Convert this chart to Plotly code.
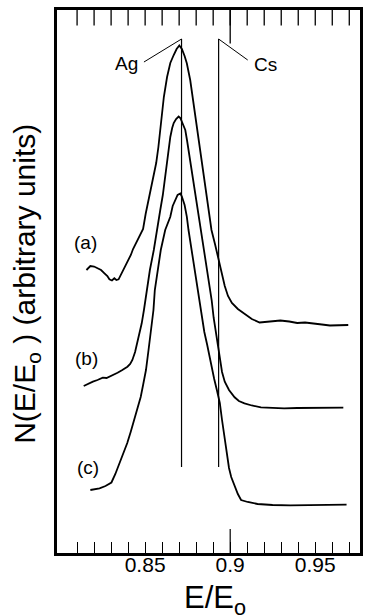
import plotly.graph_objects as go

# ---- data (E/Eo, arbitrary units) ----
a_x = [0.8155, 0.8178, 0.8200, 0.8222, 0.8241, 0.8261, 0.8278, 0.8290, 0.8305, 0.8319,
       0.8331, 0.8344, 0.8354, 0.8364, 0.8387, 0.8400, 0.8416, 0.8429, 0.8445, 0.8456,
       0.8468, 0.8479, 0.8488, 0.8503, 0.8517, 0.8532, 0.8549, 0.8565, 0.8578, 0.8590,
       0.8601, 0.8610, 0.8629, 0.8648, 0.8668, 0.8685, 0.8701, 0.8716, 0.8732, 0.8745,
       0.8765, 0.8784, 0.8803, 0.8832, 0.8861, 0.8890, 0.8912, 0.8929, 0.8947, 0.8968,
       0.8987, 0.9010, 0.9045, 0.9086, 0.9127, 0.9173, 0.9220, 0.9254, 0.9295, 0.9347,
       0.9394, 0.9440, 0.9493, 0.9539, 0.9586, 0.9638, 0.9694]
a_y = [283, 287, 286.5, 284.7, 283, 279.7, 277, 273.7, 272.5, 274.7,
       273, 273.7, 277, 279.7, 288, 293, 298, 304, 309.7, 313,
       318, 321, 324, 339, 350, 361, 375, 390, 406, 423,
       441, 456, 476, 490, 498, 504, 507.5, 504, 497, 489.7,
       473, 450, 423, 390, 356, 323, 308, 296, 281, 267,
       257, 250, 244, 239, 234, 230.5, 231, 232, 232.5, 231.5,
       230, 230.5, 229.7, 228.5, 227.5, 228, 228]

b_x = [0.8139, 0.8162, 0.8193, 0.8220, 0.8251, 0.8273, 0.8290, 0.8313, 0.8338, 0.8366,
       0.8396, 0.8412, 0.8425, 0.8441, 0.8454, 0.8467, 0.8480, 0.8493, 0.8511, 0.8528,
       0.8551, 0.8572, 0.8589, 0.8604, 0.8615, 0.8629, 0.8639, 0.8648, 0.8659, 0.8668,
       0.8682, 0.8697, 0.8707, 0.8720, 0.8736, 0.8746, 0.8755, 0.8769, 0.8784, 0.8798,
       0.8813, 0.8829, 0.8842, 0.8859, 0.8877, 0.8891, 0.8903, 0.8918, 0.8929, 0.8939,
       0.8952, 0.8968, 0.8993, 0.9026, 0.9051, 0.9084, 0.9127, 0.9181, 0.9249, 0.9317,
       0.9394, 0.9491, 0.9580, 0.9665]
b_y = [167, 169, 171.3, 173, 175.3, 175, 176.3, 178, 180.3, 183,
       186.3, 189, 193, 201, 209.7, 220, 229.7, 243, 263, 283,
       303, 323, 343, 358, 373, 390, 405, 416, 425, 430,
       434, 436.5, 435, 430, 423, 413, 403, 388, 373, 356,
       340, 323, 308, 291, 271, 253, 235, 218, 203, 193,
       181, 171.3, 163, 155.7, 152, 149.7, 147.5, 145.7, 145, 144.7,
       145, 145.3, 145, 145.3]

c_x = [0.8178, 0.8203, 0.8232, 0.8267, 0.8302, 0.8325, 0.8348, 0.8371, 0.8395, 0.8415,
       0.8432, 0.8453, 0.8474, 0.8488, 0.8505, 0.8520, 0.8534, 0.8549, 0.8557, 0.8575,
       0.8592, 0.8618, 0.8648, 0.8662, 0.8678, 0.8691, 0.8707, 0.8716, 0.8732, 0.8745,
       0.8755, 0.8766, 0.8778, 0.8793, 0.8807, 0.8822, 0.8833, 0.8848, 0.8865, 0.8877,
       0.8890, 0.8906, 0.8923, 0.8939, 0.8952, 0.8968, 0.8981, 0.8993, 0.9006, 0.9028,
       0.9045, 0.9064, 0.9103, 0.9161, 0.9249, 0.9353, 0.9452, 0.9551, 0.9626, 0.9684]
c_y = [63, 63.5, 64.7, 67, 70.5, 79, 89, 99, 110, 121,
       131, 143, 156, 168, 183, 203, 223, 243, 263, 283,
       303, 323, 336.3, 347, 354, 358, 359.5, 356.5, 348, 336.3,
       323, 311, 297, 281, 263, 248, 235, 221, 208, 197,
       186, 174, 162, 150, 133, 113, 95, 85, 76, 66,
       59, 53, 51, 49, 48, 47.7, 47.7, 47.7, 48, 48.3]

# reference lines (E/Eo) and their vertical extent
ref_names = ["Ag", "Cs"]
ref_x = [0.8714, 0.8932]
ref_y = [86, 514]
leader_end_x = [0.8493, 0.9103]
leader_end_y = [491, 493]
ref_label_x = [0.8389, 0.9208]
ref_label_y = [490, 489]

curve_labels = ["(a)", "(b)", "(c)"]
curve_label_x = [0.8151, 0.8157, 0.8162]
curve_label_y = [311, 195, 86]

x_range = [0.7982, 0.9763]
y_range = [0, 543]
tick_vals = [0.81, 0.82, 0.83, 0.84, 0.85, 0.86, 0.87, 0.88, 0.89,
             0.90, 0.91, 0.92, 0.93, 0.94, 0.95, 0.96, 0.97]
tick_text = ["", "", "", "", "0.85", "", "", "", "",
             "0.9", "", "", "", "", "0.95", "", ""]
long_tick = 0.9
long_tick_frac = 0.044   # long tick length as fraction of plot height

FONT = "Liberation Sans, Arial, Helvetica, sans-serif"

fig = go.Figure()
for xs, ys in [(a_x, a_y), (b_x, b_y), (c_x, c_y)]:
    fig.add_trace(go.Scatter(x=xs, y=ys, mode="lines",
                             line=dict(color="black", width=1.8),
                             showlegend=False, hoverinfo="skip"))

for i, name in enumerate(ref_names):
    fig.add_trace(go.Scatter(x=[ref_x[i], ref_x[i]], y=ref_y, mode="lines",
                             line=dict(color="black", width=1.2),
                             showlegend=False, hoverinfo="skip"))
    fig.add_trace(go.Scatter(x=[ref_x[i], leader_end_x[i]], y=[ref_y[1], leader_end_y[i]],
                             mode="lines", line=dict(color="black", width=1),
                             showlegend=False, hoverinfo="skip"))
    fig.add_annotation(x=ref_label_x[i], y=ref_label_y[i], text=name, showarrow=False,
                       font=dict(family=FONT, size=19, color="black"))

for lab, lx, ly in zip(curve_labels, curve_label_x, curve_label_y):
    fig.add_annotation(x=lx, y=ly, text=lab, showarrow=False,
                       font=dict(family=FONT, size=19, color="black"))

# top-edge ticks: vertical line markers centred on the top edge (clipped to plot area)
fig.add_trace(go.Scatter(x=tick_vals, y=[y_range[1]] * len(tick_vals), mode="markers",
                         marker=dict(symbol="line-ns", size=22, color="black",
                                     line=dict(width=1.3, color="black")),
                         cliponaxis=True, showlegend=False, hoverinfo="skip"))
fig.add_trace(go.Scatter(x=[long_tick], y=[y_range[1]], mode="markers",
                         marker=dict(symbol="line-ns", size=48, color="black",
                                     line=dict(width=1.3, color="black")),
                         cliponaxis=True, showlegend=False, hoverinfo="skip"))

# long tick at 0.9 on the bottom edge
fig.add_shape(type="line", xref="x", yref="paper", x0=long_tick, x1=long_tick,
              y0=0, y1=long_tick_frac, line=dict(color="black", width=1.2))

fig.update_layout(
    width=366, height=615,
    margin=dict(l=57, r=3, t=10, b=62),
    paper_bgcolor="white", plot_bgcolor="white",
    font=dict(family=FONT, color="black"),
    xaxis=dict(range=x_range, showgrid=False, zeroline=False,
               showline=True, linewidth=2.5, linecolor="black", mirror=True,
               tickvals=tick_vals, ticktext=tick_text, ticks="inside", ticklen=11,
               tickwidth=1.2, tickcolor="black", ticklabelstandoff=-9,
               tickfont=dict(family=FONT, size=21, color="black")),
    yaxis=dict(range=y_range, showgrid=False, zeroline=False, showticklabels=False,
               showline=True, linewidth=2.5, linecolor="black", mirror=True, ticks=""),
)

fig.add_annotation(xref="paper", yref="paper", x=-0.1013, y=0.4963,
                   xanchor="center", yanchor="middle",
                   text="N(E/E<sub>o</sub> ) (arbitrary units)", textangle=-90,
                   showarrow=False, font=dict(family=FONT, size=30, color="black"))
fig.add_annotation(xref="paper", yref="paper", x=0.52, y=-0.046,
                   xanchor="center", yanchor="top",
                   text="E/E<sub>o</sub>", showarrow=False,
                   font=dict(family=FONT, size=31, color="black"))

fig.write_html("out.html")
